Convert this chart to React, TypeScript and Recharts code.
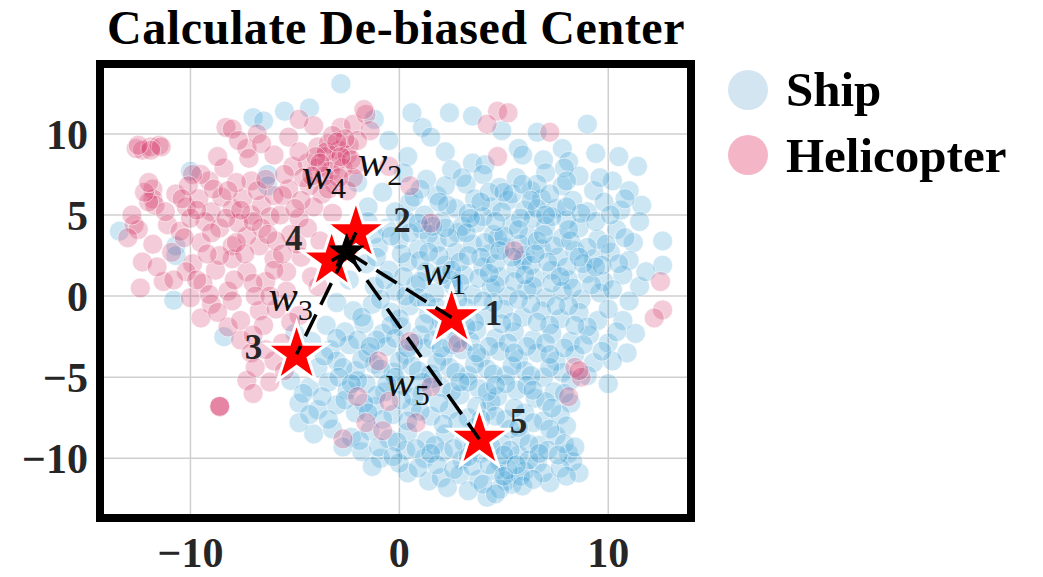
import {
  CartesianGrid,
  ComposedChart,
  Customized,
  ReferenceArea,
  Scatter,
  XAxis,
  YAxis,
} from "recharts";

// t-SNE style embedding (x, y)
const shipPoints: [number, number][] = [
  [-2.8, 13.1], [-5.5, 11.4], [-7.0, 11.0], [-6.5, 10.8], [0.6, 11.3], [1.1, 10.4], [2.4, 11.3], [3.5, 11.1],
  [4.9, 10.2], [6.6, 10.1], [2.2, 8.9], [3.5, 8.2], [4.1, 8.1], [5.7, 9.1], [5.9, 8.7], [7.8, 9.1],
  [8.1, 8.3], [9.4, 8.8], [11.4, 8.0], [-0.5, 9.6], [0.4, 8.6], [1.5, 9.8], [-1.2, 10.9], [-4.3, 11.6],
  [9.0, 10.6], [6.9, 8.4], [-10.0, 7.7], [-6.3, 7.5], [-6.3, 6.8],
  [0.2, 7.6], [1.3, 7.2], [2.5, 7.8], [3.2, 6.9], [4.0, 7.5], [4.8, 6.7], [5.6, 7.3], [6.3, 6.5],
  [7.0, 7.6], [7.8, 6.8], [8.6, 7.4], [9.3, 6.5], [10.2, 7.1], [11.0, 6.5], [11.6, 5.6], [-0.8, 6.4],
  [0.5, 5.8], [1.8, 6.2], [2.7, 5.4], [3.6, 6.0], [4.4, 5.5], [5.2, 5.9], [6.0, 5.3], [6.8, 6.0],
  [7.5, 5.4], [8.3, 5.9], [9.0, 5.2], [9.8, 5.8], [10.6, 5.3], [-1.5, 5.5], [-2.0, 7.0], [5.4, 6.3],
  [6.6, 6.9], [3.0, 7.3], [7.9, 7.9], [10.5, 8.6],
  [-1.5, 4.6], [-0.6, 4.2], [0.3, 4.7], [1.1, 4.1], [2.0, 4.6], [2.8, 3.9], [3.7, 4.5], [4.5, 3.8],
  [5.4, 4.4], [6.2, 3.7], [7.0, 4.3], [7.8, 3.6], [8.6, 4.2], [9.5, 3.5], [10.4, 4.1], [11.2, 3.3],
  [-2.0, 3.4], [-1.0, 3.0], [0.0, 3.5], [0.9, 2.9], [1.8, 3.3], [2.7, 2.7], [3.5, 3.2], [4.3, 2.6],
  [5.1, 3.0], [6.0, 2.5], [6.8, 2.9], [7.6, 2.4], [8.4, 2.8], [9.3, 2.3], [10.1, 2.7], [11.0, 2.2],
  [12.6, 3.4], [12.6, 1.9], [-1.6, 2.0], [-0.5, 1.6], [0.4, 2.1], [1.3, 1.5], [2.2, 1.9], [3.1, 1.3],
  [4.0, 1.8], [4.8, 1.2], [5.6, 1.7], [6.5, 1.1], [7.3, 1.6], [8.1, 1.0], [9.0, 1.4], [9.8, 0.9],
  [10.7, 1.3], [11.5, 0.6], [-1.2, 0.6], [-0.2, 0.3], [0.8, 0.7], [1.7, 0.2], [2.6, 0.6], [3.5, 0.1],
  [4.4, 0.5], [5.2, 0.0], [6.1, 0.4], [7.0, -0.1], [7.8, 0.3], [8.7, -0.2], [9.6, 0.2], [4.7, 3.6],
  [3.0, 4.3], [6.4, 4.8], [8.0, 4.7], [2.4, 1.0], [5.9, 2.2], [1.4, 3.8], [-2.4, 1.0],
  [-3.0, -0.4], [-2.2, -0.9], [-1.3, -0.5], [-0.4, -1.0], [0.5, -0.6], [1.4, -1.1], [3.2, -0.7], [4.1, -1.2],
  [5.0, -0.8], [5.9, -1.3], [6.8, -0.9], [7.7, -1.4], [8.6, -1.0], [9.5, -1.5], [10.7, -1.5], [11.3, -2.3],
  [-3.5, -1.8], [-2.6, -2.2], [-1.7, -1.7], [-0.8, -2.3], [0.1, -1.9], [1.0, -2.4], [1.9, -2.0], [2.8, -2.6],
  [3.7, -2.1], [4.6, -2.6], [5.5, -2.2], [6.4, -2.7], [7.3, -2.3], [8.2, -2.8], [9.1, -2.4], [10.0, -2.9],
  [-4.2, -2.8], [-3.3, -3.3], [-2.4, -3.0], [-1.5, -3.5], [-0.6, -3.1], [0.3, -3.6], [1.2, -3.2], [2.1, -3.7],
  [3.0, -3.3], [3.9, -3.8], [4.8, -3.4], [5.7, -3.9], [6.6, -3.5], [7.5, -4.0], [8.4, -3.6], [9.3, -4.1],
  [10.9, -3.5], [10.2, -4.0], [-4.8, -3.9], [-3.9, -4.4], [-3.0, -4.0], [-2.1, -4.6], [-1.2, -4.2], [-0.3, -4.7],
  [0.6, -4.3], [1.5, -4.8], [2.4, -4.4], [3.3, -4.9], [4.2, -4.5], [5.1, -4.9], [6.0, -4.6], [6.9, -5.0],
  [7.8, -4.7], [9.0, -4.9], [10.0, -5.4], [2.0, -1.5], [-5.0, -2.3],
  [-5.2, -5.2], [-4.3, -5.6], [-3.4, -5.3], [-2.5, -5.8], [-1.6, -5.4], [-0.7, -5.9], [0.2, -5.5], [1.1, -6.0],
  [2.0, -5.6], [2.9, -6.1], [3.8, -5.7], [4.7, -6.2], [5.6, -5.8], [6.5, -6.3], [7.4, -5.9], [8.2, -6.6],
  [-4.8, -6.6], [-3.9, -7.0], [-3.0, -6.7], [-2.1, -7.2], [-1.2, -6.8], [-0.3, -7.3], [0.6, -6.9], [1.5, -7.4],
  [2.4, -7.0], [3.3, -7.5], [4.2, -7.1], [5.1, -7.6], [6.0, -7.2], [6.9, -7.7], [7.7, -7.3], [-4.1, -8.5],
  [-4.8, -7.8], [-3.2, -8.2], [-2.3, -8.7], [-1.4, -8.3], [-0.5, -8.8], [0.4, -8.4], [1.3, -8.9], [2.2, -8.5],
  [3.1, -9.0], [4.0, -8.6], [4.9, -9.1], [5.8, -8.7], [6.7, -9.2], [7.5, -8.6], [-1.8, -9.6], [-0.9, -10.0],
  [0.3, -9.5], [1.2, -10.0], [2.1, -9.6], [3.0, -10.1], [3.9, -9.7], [4.8, -10.2], [5.7, -9.8], [6.6, -10.3],
  [8.1, -9.7], [8.6, -10.9], [4.4, -6.5], [5.3, -8.2], [3.6, -8.1],
  [-1.3, -10.5], [0.4, -10.9], [1.4, -11.4], [2.0, -11.2], [2.9, -11.0], [3.8, -11.3], [4.2, -12.4], [5.1, -11.4],
  [5.4, -11.6], [6.0, -10.8], [7.2, -11.5], [4.6, -10.8], [3.3, -12.0], [5.8, -11.1],
  // second layer, denser core
  [1.0, 6.6], [2.2, 6.8], [4.3, 6.4], [5.9, 6.9], [7.2, 6.3], [8.0, 7.1], [9.6, 7.3], [10.8, 6.0],
  [-0.2, 5.2], [1.2, 5.0], [2.3, 5.6], [3.3, 5.1], [4.0, 4.9], [4.9, 5.2], [5.8, 4.8], [6.6, 5.4],
  [7.3, 4.9], [8.7, 5.1], [9.4, 4.6], [10.1, 5.0], [11.5, 4.6],
  [-1.2, 3.8], [0.5, 3.9], [1.6, 4.3], [2.4, 3.6], [3.2, 3.9], [4.1, 3.3], [5.0, 3.7], [5.8, 3.2],
  [6.6, 3.4], [7.4, 3.1], [8.2, 3.4], [9.0, 3.0], [9.9, 3.2], [10.8, 3.6],
  [-1.1, 2.4], [0.1, 2.6], [1.0, 2.2], [1.9, 2.5], [2.9, 2.1], [3.9, 2.4], [4.6, 2.0], [5.4, 2.4],
  [6.3, 1.9], [7.1, 2.1], [8.0, 1.8], [8.8, 2.0], [9.7, 1.9], [10.5, 2.0], [11.8, 1.5],
  [-0.7, 1.0], [0.2, 1.2], [1.0, 0.9], [2.0, 1.3], [2.9, 0.8], [3.8, 1.1], [4.6, 0.7], [5.5, 0.9],
  [6.4, 0.6], [7.3, 0.8], [8.3, 0.5], [9.2, 0.7], [10.2, 0.4], [11.0, -0.3],
  [-1.8, -1.3], [-0.9, -0.2], [0.0, -1.4], [0.9, -0.1], [1.8, -0.7], [2.4, -1.9], [3.6, -1.6], [4.5, -0.4],
  [5.4, -1.6], [6.3, -0.5], [7.2, -1.8], [8.1, -0.6], [9.0, -1.9], [10.0, -0.8], [10.4, -2.2],
  [-3.0, -2.6], [-2.0, -2.7], [-1.1, -2.7], [-0.2, -2.6], [0.7, -2.9], [1.6, -2.7], [2.5, -3.0], [3.4, -2.8],
  [4.3, -3.1], [5.2, -2.9], [6.1, -3.1], [7.0, -2.9], [7.9, -3.2], [8.8, -3.0], [9.7, -3.4],
  [-3.6, -3.7], [-2.7, -4.4], [-1.8, -3.9], [-0.9, -4.5], [0.0, -4.0], [0.9, -4.6], [1.8, -4.1], [2.7, -4.7],
  [3.6, -4.2], [4.5, -4.8], [5.4, -4.3], [6.3, -4.9], [7.2, -4.4], [8.2, -5.2],
  [-4.6, -6.0], [-3.7, -6.2], [-2.9, -5.0], [-2.0, -5.2], [-1.1, -6.1], [-0.2, -5.0], [0.7, -6.2], [1.6, -5.1],
  [2.5, -5.9], [3.3, -5.3], [4.2, -5.9], [5.1, -5.4], [6.1, -5.5], [7.0, -6.5], [7.9, -6.0],
  [-4.3, -7.3], [-3.4, -7.6], [-2.6, -6.4], [-1.7, -6.6], [-0.8, -7.6], [0.1, -6.4], [1.0, -7.1], [1.9, -6.6],
  [2.8, -7.7], [3.7, -6.8], [4.6, -7.4], [5.5, -6.9], [6.4, -7.8], [7.3, -6.9], [8.0, -8.0],
  [-2.7, -9.3], [-1.9, -8.9], [-1.0, -9.3], [-0.1, -9.0], [0.8, -9.4], [1.7, -9.2], [2.6, -9.4], [3.5, -9.4],
  [4.4, -9.3], [5.3, -9.5], [6.2, -9.1], [7.1, -9.5], [7.9, -9.1], [8.3, -10.2],
  [0.0, -10.3], [0.9, -10.6], [1.8, -10.4], [2.6, -10.7], [3.5, -10.5], [4.3, -10.4], [5.2, -10.7], [6.2, -10.1],
  [6.9, -10.9], [4.8, -11.9], [5.9, -11.7], [7.7, -10.6], [8.0, -11.1], [5.0, -11.1],
  [-13.4, 4.0], [-10.7, 3.1], [-10.7, 2.5], [-10.8, -0.25], [-8.4, -2.5],
  // third layer, densest parts
  [0.7, 6.1], [1.9, 5.8], [3.9, 5.8], [5.0, 6.4], [6.3, 5.9], [7.0, 5.0], [8.0, 5.5], [4.6, 4.6],
  [5.7, 4.1], [3.4, 4.8], [6.9, 3.8], [8.1, 4.1], [2.2, 4.2], [0.9, 4.5], [-0.4, 3.7], [1.4, 2.7],
  [3.3, 2.5], [4.8, 2.8], [6.5, 2.6], [8.6, 2.4], [2.5, 1.6], [4.3, 1.4], [6.0, 1.3], [7.7, 1.2],
  [9.4, 1.8], [0.3, 0.0], [1.3, -0.4], [2.8, -0.2], [4.0, -0.3], [5.7, -0.2], [7.5, -0.6], [-0.4, -1.8],
  [1.2, -1.7], [3.2, -1.9], [4.9, -1.7], [6.6, -1.6], [8.4, -1.8], [-1.4, -3.1], [0.4, -3.2], [2.0, -3.2],
  [3.7, -3.5], [5.5, -3.5], [7.2, -3.6], [-2.3, -5.4], [-0.6, -5.4], [1.1, -5.3], [2.9, -5.3], [4.6, -5.5],
  [6.4, -5.8], [-1.5, -7.2], [0.4, -7.7], [2.1, -7.9], [3.9, -7.6], [5.7, -8.1], [7.2, -8.2], [-0.3, -9.9],
  [1.5, -9.7], [3.3, -9.9], [5.0, -9.8], [6.7, -9.7], [4.0, -11.6], [5.6, -10.4], [6.4, -11.3], [7.6, -9.8],
  [2.3, -11.8], [4.6, -12.2], [8.4, -9.3],
];

const heliPoints: [number, number][] = [
  [-12.6, 9.1], [-12.3, 9.0], [-11.9, 9.2], [-11.5, 9.3], [-11.4, 9.2], [-8.3, 10.4], [-8.0, 10.3], [-7.3, 9.1],
  [-7.2, 8.5], [-6.0, 8.7], [-4.1, 10.5], [-2.8, 10.4], [-2.2, 10.6], [-1.6, 11.2], [-1.4, 10.2], [-1.7, 11.5],
  [-3.9, 9.2], [-3.4, 9.4], [-2.9, 9.0], [-2.4, 9.3], [-3.6, 8.6], [-3.0, 8.3], [-2.5, 8.7], [-3.9, 7.9],
  [-3.3, 7.7], [-2.7, 7.9], [-2.1, 8.1], [-4.4, 8.2], [-2.0, 9.6], [-3.1, 6.9], [-2.5, 6.5], [-3.7, 6.3],
  [-4.3, 6.8], [-2.2, 7.3], [-5.1, 8.0], [-4.6, 7.3], [-5.3, 6.6],
  [-7.1, 7.1], [-8.4, 7.9], [-9.1, 7.1], [-9.5, 7.5], [-11.8, 6.6], [-11.8, 6.0], [-11.7, 5.6], [-9.9, 7.5],
  [-10.7, 6.3], [-10.2, 5.5], [-9.6, 6.0], [-9.0, 5.2], [-8.5, 6.1], [-8.0, 5.4], [-7.5, 6.0], [-7.1, 5.0],
  [-6.6, 5.6], [-6.2, 4.9], [-9.3, 4.6], [-8.6, 4.2], [-12.7, 4.4], [-12.5, 4.1], [-11.1, 4.4], [-10.5, 4.0],
  [-13.0, 3.6], [-8.0, 3.1], [-8.0, 2.3], [-6.7, 3.1], [-6.0, 2.3], [-5.7, 5.0], [-4.8, 4.8], [-4.4, 4.2],
  [-3.8, 3.4], [-5.2, 3.8], [-7.3, 3.7], [-9.5, 3.3], [-10.9, 2.7], [-11.8, 3.2], [-12.3, 2.1], [-9.9, 2.0],
  [-8.8, 1.6], [-7.3, 1.5], [-6.4, 0.9], [-5.4, 1.5], [-4.7, 2.4], [-10.2, 1.5], [-9.4, 0.8], [-8.2, 0.3],
  [-7.0, 0.8], [-5.4, 0.3], [-4.2, 1.2], [-11.3, 0.9], [-12.4, 0.5], [-10.0, -0.1], [-9.0, -0.5], [-8.0, -0.3],
  [-6.7, -0.9], [-9.5, -1.35], [-7.6, -2.7], [-7.1, -3.5], [-6.0, -4.0], [-7.3, -5.2], [-7.0, -6.0], [-8.6, -6.8],
  [-8.6, -6.8], [-8.6, -6.8], [-6.5, -1.8], [-5.6, -2.9], [-8.2, -1.9], [-4.8, -1.2], [-3.9, 0.6], [-6.2, -5.3],
  [-5.5, -4.6],
  [-2.7, -8.8], [-1.6, -7.8], [-0.8, -8.3], [-2.0, -6.2], [-0.5, -6.5], [0.8, -7.8], [1.5, -5.6], [-1.0, -4.0],
  [0.5, -2.8],
  [4.7, 11.4], [5.2, 11.3], [4.2, 10.6], [7.2, 10.1], [4.7, 8.6], [12.5, 0.9], [12.6, -0.85], [12.2, -1.35],
  [8.4, -4.4], [8.7, -5.0], [8.1, -6.2], [8.6, -4.6], [2.8, -2.9], [5.5, 2.8], [1.5, 4.5], [0.5, 6.8],
  [-0.5, 8.0], [-6.8, 10.0], [-5.3, 9.8], [-4.8, 10.9], [-8.7, 8.6],
  // denser left cluster
  [-3.5, 8.9], [-2.6, 9.7], [-3.2, 9.9], [-4.0, 8.6], [-2.3, 8.4], [-3.6, 7.4], [-2.9, 7.3], [-4.8, 8.9],
  [-5.5, 7.5], [-6.0, 6.2], [-6.8, 6.5], [-7.8, 7.0], [-8.9, 6.6], [-10.1, 6.8], [-11.2, 5.2], [-10.0, 4.8],
  [-9.0, 3.9], [-7.7, 4.5], [-6.6, 4.2], [-5.9, 3.4], [-4.9, 3.2], [-5.6, 6.2], [-4.1, 5.5], [-3.2, 5.1],
  [-12.0, 5.8], [-12.2, 6.4], [-10.8, 1.0], [-9.7, 1.0], [-8.6, 2.5], [-7.4, 2.6], [-6.0, 1.6], [-11.6, 1.8],
  [-8.7, -1.0], [-7.6, -1.5], [-6.9, 0.0], [-5.9, -0.8], [-5.2, -1.6], [-7.0, -2.4], [-6.4, -3.3], [-6.9, -4.4],
  [-12.8, 5.0], [-12.0, 7.0], [-11.9, 9.0], [-12.5, 9.3], [-7.7, 9.6], [-6.6, 9.4],
  [-3.0, 9.5], [-3.8, 8.2], [-2.8, 8.6], [-4.2, 7.4], [-3.4, 6.6], [-4.7, 5.9], [-5.0, 5.4], [-7.0, 4.6],
  [-8.3, 4.8], [-9.7, 5.3], [-10.4, 6.0], [-8.2, 6.5], [-6.4, 7.2], [-7.6, 5.3], [-6.3, 3.8], [-7.8, 3.3],
  [-9.2, 2.6], [-10.3, 3.6], [-5.6, 2.6], [-7.9, 1.0], [-9.1, 0.1], [-6.2, 0.0],
];

// sampled points 1..5 and the de-biased center
const starIds = [1, 2, 3, 4, 5];
const starX = [2.5, -2.08, -4.92, -3.24, 3.83];
const starY = [-1.32, 3.92, -3.58, 2.18, -8.82];
const centerX = -2.52;
const centerY = 2.74;

const xTicks = [-10, 0, 10];
const yTicks = [-10, -5, 0, 5, 10];
const seriesNames = ["Ship", "Helicopter"];
const chartTitle = "Calculate De-biased Center";

const shipData = shipPoints.map(([x, y]) => ({ x, y }));
const heliData = heliPoints.map(([x, y]) => ({ x, y }));
const starData = starIds.map((id, i) => ({ id, x: starX[i], y: starY[i] }));
const centerData = [{ x: centerX, y: centerY }];

const SERIF = "'Liberation Serif', 'DejaVu Serif', serif";
const SHIP_COLOR = "#2a96d0";
const HELI_COLOR = "#d1245c";

// pixel offsets of the annotations from each star
const LABEL_OFFSETS: Record<number, { num: [number, number]; w: [number, number] }> = {
  1: { num: [42, -5], w: [-15, -43] },
  2: { num: [46, -13], w: [17, -67] },
  3: { num: [-43, -7], w: [-13, -53] },
  4: { num: [-38, -23], w: [-15, -82] },
  5: { num: [39, -18], w: [-79, -53] },
};

function starPoints(cx: number, cy: number, r: number, ratio = 0.382) {
  const pts: string[] = [];
  for (let i = 0; i < 10; i++) {
    const a = ((-90 + i * 36) * Math.PI) / 180;
    const rr = i % 2 === 0 ? r : r * ratio;
    pts.push(`${cx + rr * Math.cos(a)},${cy + rr * Math.sin(a)}`);
  }
  return pts.join(" ");
}

const dot = (color: string, opacity: number) => (props: any) =>
  (
    <circle
      cx={props.cx}
      cy={props.cy}
      r={10}
      fill={color}
      fillOpacity={opacity}
      stroke="#fff"
      strokeWidth={1}
      strokeOpacity={0.5}
    />
  );

function RedStar(props: any) {
  const { cx, cy, payload } = props;
  const id = payload.id;
  const o = LABEL_OFFSETS[id];
  return (
    <g>
      <polygon
        points={starPoints(cx, cy, 27)}
        fill="#ff0000"
        stroke="#ffffff"
        strokeWidth={6}
        strokeLinejoin="miter"
        paintOrder="stroke"
      />
      <text
        x={cx + o.num[0]}
        y={cy + o.num[1] + 12}
        textAnchor="middle"
        fontFamily={SERIF}
        fontWeight={700}
        fontSize={35}
        fill="#262626"
      >
        {id}
      </text>
      <text
        x={cx + o.w[0] - 15}
        y={cy + o.w[1] + 10}
        fontFamily={SERIF}
        fontSize={44}
        fill="#111"
      >
        <tspan fontStyle="italic">w</tspan>
        <tspan fontSize={30} dy={9}>
          {id}
        </tspan>
      </text>
    </g>
  );
}

function BlackStar(props: any) {
  return (
    <polygon
      points={starPoints(props.cx, props.cy, 18, 0.4)}
      fill="#000"
      stroke="#000"
      strokeWidth={1}
    />
  );
}

function TitleAndLegend() {
  const legendColors = ["#d2e5f0", "#f4b6c6"];
  return (
    <g>
      <text
        x={396}
        y={44}
        textAnchor="middle"
        fontFamily={SERIF}
        fontWeight={700}
        fontSize={48}
        letterSpacing={0.6}
        fill="#000"
      >
        {chartTitle}
      </text>
      {seriesNames.map((name, i) => (
        <g key={name}>
          <circle cx={748} cy={90 + i * 65} r={20} fill={legendColors[i]} />
          <text
            x={786}
            y={106 + i * 66}
            fontFamily={SERIF}
            fontWeight={700}
            fontSize={49}
            fill="#000"
          >
            {name}
          </text>
        </g>
      ))}
    </g>
  );
}

const fmt = (v: number) => (v < 0 ? `\u2212${-v}` : `${v}`);
const tickStyle = { fontFamily: SERIF, fontWeight: 700, fontSize: 42, fill: "#262626" };
const dashStyle = { stroke: "#000", strokeWidth: 3.5, strokeDasharray: "24 11" };

export default function App() {
  return (
    <div style={{ position: "absolute", left: 0, top: 0, background: "#fff" }}>
      <ComposedChart
        width={1043}
        height={577}
        margin={{ top: 64, right: 352, bottom: 0, left: 0 }}
      >
        <CartesianGrid stroke="#cfcfcf" strokeWidth={1.5} />
        <XAxis
          type="number"
          dataKey="x"
          domain={[-14.33, 13.96]}
          ticks={xTicks}
          allowDataOverflow
          axisLine={false}
          tickLine={false}
          tickSize={0}
          tickMargin={19}
          height={59}
          tick={tickStyle}
          tickFormatter={fmt}
        />
        <YAxis
          type="number"
          dataKey="y"
          domain={[-13.68, 14.31]}
          ticks={yTicks}
          allowDataOverflow
          axisLine={false}
          tickLine={false}
          tickSize={0}
          tickMargin={12}
          width={100}
          tick={tickStyle}
          tickFormatter={fmt}
        />
        <Scatter
          name={seriesNames[0]}
          data={shipData}
          shape={dot(SHIP_COLOR, 0.24)}
          isAnimationActive={false}
        />
        <Scatter
          name={seriesNames[1]}
          data={heliData}
          shape={dot(HELI_COLOR, 0.24)}
          isAnimationActive={false}
        />
        <Scatter data={starData} shape={RedStar} isAnimationActive={false} />
        {starData.map((s) => (
          <Scatter
            key={s.id}
            data={[centerData[0], s]}
            line={dashStyle}
            shape={() => <g />}
            isAnimationActive={false}
          />
        ))}
        <Scatter data={centerData} shape={BlackStar} isAnimationActive={false} />
        <ReferenceArea
          x1={-14.33}
          x2={13.96}
          y1={-13.68}
          y2={14.31}
          fill="none"
          fillOpacity={0}
          stroke="#000"
          strokeWidth={8}
          ifOverflow="visible"
        />
        <Customized component={TitleAndLegend} />
      </ComposedChart>
    </div>
  );
}
